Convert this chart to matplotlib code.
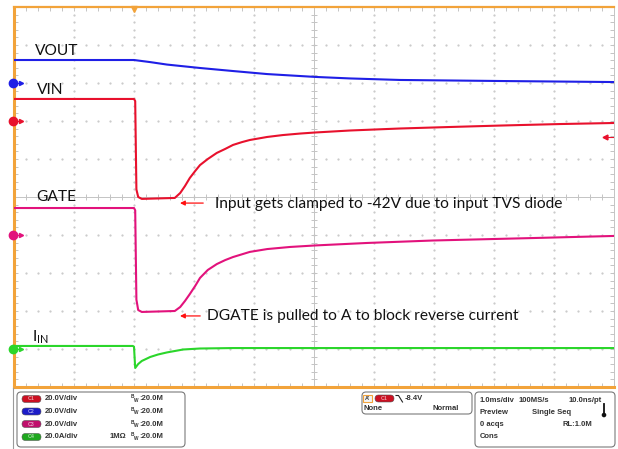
import numpy as np
import matplotlib
matplotlib.use('Agg')
import matplotlib.pyplot as plt
from matplotlib.patches import FancyBboxPatch, Rectangle, Circle

# scope settings: 1.0 ms/div, trigger 2 div from left, 20 V/div (20 A/div on C4)
T_MIN, T_MAX = -2.0, 8.0
V_PER_DIV = 20.0
# ground reference of each channel, in divisions from screen centre
POS_C1 = 2.0   # VIN
POS_C2 = 3.0   # VOUT
POS_C3 = -1.0  # GATE
POS_C4 = -4.0  # IIN
TRIG_LEVEL = -8.4

# C2 - VOUT (V)
vout_t = [-2.0, 0.0, 0.27, 0.55, 1.1, 1.65, 2.22, 3.02, 3.6, 4.43, 6.1, 8.0]
vout_v = [12.1, 12.1, 11.0, 9.7, 7.9, 6.3, 4.7, 3.2, 2.4, 1.6, 1.05, 0.5]

# C1 - VIN (V)
vin_t = [-2.0, 0.0, 0.02, 0.04, 0.07, 0.13, 0.68, 0.77, 0.85, 0.93, 1.02, 1.1, 1.23,
         1.38, 1.52, 1.65, 1.8, 1.93, 2.22, 2.48, 2.77, 3.02, 3.6, 4.43, 5.27, 6.1, 7.1, 8.0]
vin_v = [11.6, 11.6, 10.5, -36.0, -40.0, -41.0, -40.5, -37.9, -34.2, -30.0, -26.3, -23.2, -20.0,
         -16.8, -14.7, -12.6, -11.1, -10.0, -8.4, -7.4, -6.6, -6.05, -5.0, -3.95, -3.15, -2.4, -1.6, -1.05]

# C3 - GATE (V)
gate_t = [-2.0, 0.0, 0.02, 0.04, 0.07, 0.13, 0.68, 0.77, 0.85, 0.93, 1.02, 1.1, 1.23,
          1.38, 1.52, 1.65, 1.93, 2.22, 2.6, 3.02, 3.88, 4.98, 6.65, 8.0]
gate_v = [14.2, 14.2, 13.0, -34.0, -39.5, -40.5, -40.0, -37.9, -34.7, -31.1, -26.8, -22.6, -18.4,
          -15.3, -13.2, -11.6, -8.9, -7.4, -6.3, -5.5, -4.2, -2.9, -1.6, -0.5]

# C4 - IIN (A)
iin_t = [-2.0, -0.02, 0.0, 0.02, 0.07, 0.13, 0.27, 0.4, 0.55, 0.82, 1.1, 1.65, 8.0]
iin_a = [1.6, 1.6, 1.2, -10.0, -7.9, -6.3, -4.2, -2.9, -1.8, -0.26, 0.26, 0.5, 0.5]

C_RED = '#e8112d'
C_BLUE = '#1f1fe6'
C_MAG = '#e2127c'
C_GRN = '#2bd62b'
ORANGE = '#f2a33a'
GRID = '#c4c4c4'

W, H = 618, 449
fig = plt.figure(figsize=(W / 100, H / 100), dpi=100)
ax = fig.add_axes([14 / W, 62 / H, 600 / W, 380 / H])
ax.set_xlim(T_MIN, T_MAX)
ax.set_ylim(-5, 5)
ax.set_xticks([])
ax.set_yticks([])


def to_div(vals, pos):
    return pos + np.asarray(vals) / V_PER_DIV


# dotted graticule
minor_y = np.arange(-5, 5.001, 0.2)
minor_x = np.arange(-2, 8.001, 0.2)
for gx in range(-1, 8):
    if gx == 3:
        continue
    ax.plot(np.full_like(minor_y, gx), minor_y, ls='none', marker='.', ms=1.1, color=GRID)
for gy in range(-4, 5):
    if gy == 0:
        continue
    ax.plot(minor_x, np.full_like(minor_x, gy), ls='none', marker='.', ms=1.1, color=GRID)

# centre cross with minor ticks
ax.axvline(3, color=GRID, lw=0.7)
ax.axhline(0, color=GRID, lw=0.7)
ax.plot(np.full_like(minor_y, 3), minor_y, ls='none', marker='_', ms=4, mew=0.7, color=GRID)
ax.plot(minor_x, np.zeros_like(minor_x), ls='none', marker='|', ms=4, mew=0.7, color=GRID)

# border ticks (only the inner half stays visible)
ax.plot(minor_x, np.full_like(minor_x, 5), ls='none', marker='|', ms=6, mew=0.7, color=GRID)
ax.plot(minor_x, np.full_like(minor_x, -5), ls='none', marker='|', ms=6, mew=0.7, color=GRID)
ax.plot(np.full_like(minor_y, -2), minor_y, ls='none', marker='_', ms=6, mew=0.7, color=GRID)
ax.plot(np.full_like(minor_y, 8), minor_y, ls='none', marker='_', ms=6, mew=0.7, color=GRID)

for side in ['top', 'bottom', 'left']:
    ax.spines[side].set_color(ORANGE)
ax.spines['top'].set_linewidth(1.6)
ax.spines['bottom'].set_linewidth(2.2)
ax.spines['left'].set_linewidth(2.2)
ax.spines['right'].set_color(GRID)
ax.spines['right'].set_linewidth(0.7)

# traces
ax.plot(vout_t, to_div(vout_v, POS_C2), color=C_BLUE, lw=1.5, zorder=5)
ax.plot(vin_t, to_div(vin_v, POS_C1), color=C_RED, lw=1.5, zorder=5)
ax.plot(gate_t, to_div(gate_v, POS_C3), color=C_MAG, lw=1.5, zorder=5)
ax.plot(iin_t, to_div(iin_a, POS_C4), color=C_GRN, lw=1.5, zorder=5)

# ground markers on the left edge
for pos, col in [(POS_C2, C_BLUE), (POS_C1, C_RED), (POS_C3, C_MAG), (POS_C4, C_GRN)]:
    ax.plot([-2.02], [pos], marker='o', ms=6, color=col, clip_on=False, zorder=6)
    ax.plot([-2.0, -1.9], [pos, pos], color=col, lw=0.8, clip_on=False, zorder=6)
    ax.plot([-1.89], [pos], marker='>', ms=3, color=col, clip_on=False, zorder=6)

# trigger position and level markers
ax.plot([0], [4.95], marker='v', ms=5, color=ORANGE, clip_on=False, zorder=6)
trig_y = POS_C1 + TRIG_LEVEL / V_PER_DIV
ax.plot([7.85], [trig_y], marker='<', ms=3.5, color=C_RED, zorder=6)
ax.plot([7.88, 8.0], [trig_y, trig_y], color=C_RED, lw=0.8, zorder=6)

# labels
lab_font = dict(family='Lato', fontsize=11.2, color='#111111')
ax.text(-1.65, 3.84, 'VOUT', va='center', **lab_font)
ax.text(-1.62, 2.82, 'VIN', va='center', **lab_font)
ax.text(-1.63, -0.01, 'GATE', va='center', **lab_font)
ax.text(-1.70, -3.70, r'I$_\mathregular{IN}$', va='center', **lab_font)

ax.annotate('', xy=(0.72, -0.16), xytext=(1.2, -0.16),
            arrowprops=dict(arrowstyle='-|>', color='#ff1010', lw=0.9, mutation_scale=7))
ax.text(1.35, -0.18, 'Input gets clamped to -42V due to input TVS diode', va='center', **lab_font)
ax.annotate('', xy=(0.72, -3.13), xytext=(1.15, -3.13),
            arrowprops=dict(arrowstyle='-|>', color='#ff1010', lw=0.9, mutation_scale=7))
ax.text(1.22, -3.14, 'DGATE is pulled to A to block reverse current', va='center', **lab_font)

# status panel below the graticule (pixel coordinates)
pan = fig.add_axes([0, 0, 1, 1])
pan.set_xlim(0, W)
pan.set_ylim(H, 0)
pan.axis('off')
pan.patch.set_visible(False)

txt = dict(family='Liberation Sans', fontsize=5.5, fontweight='bold', color='#333333', va='center')
tiny = dict(family='Liberation Sans', fontsize=3.4, fontweight='bold', color='#333333', va='center')
pan.plot([13, 13], [388, 449], color='#9a9a9a', lw=0.8)


def box(x0, y0, x1, y1):
    pan.add_patch(FancyBboxPatch((x0, y0), x1 - x0, y1 - y0,
                                 boxstyle='round,pad=0,rounding_size=4',
                                 fc='white', ec='#7a7a7a', lw=0.8))


def pill(x, y, col, name):
    pan.add_patch(FancyBboxPatch((x, y - 3.5), 19, 7, boxstyle='round,pad=0,rounding_size=3.5',
                                 fc=col, ec='#555555', lw=0.4))
    pan.text(x + 9.5, y, name, ha='center', family='Liberation Sans', fontsize=3.8,
             fontweight='bold', color='#ffffff', alpha=0.6, va='center')


box(17, 392, 185, 447)
rows = [399, 411.5, 424, 437]
chan_rows = [('C1', '#cc1022', '20.0V/div'), ('C2', '#1c1cc8', '20.0V/div'),
             ('C3', '#c0106c', '20.0V/div'), ('C4', '#1fa81f', '20.0A/div')]
for yy, (name, col, scale) in zip(rows, chan_rows):
    pill(22, yy, col, name)
    pan.text(45, yy, scale, **txt)
    # bandwidth limit glyph: small B raised, W lowered
    pan.text(130.3, yy - 2.0, 'B', **tiny)
    pan.text(134.3, yy + 1.3, 'W', **tiny)
    pan.text(139.6, yy, ':20.0M', **txt)
pan.text(110, rows[3], '1M\u03a9', **txt)

box(362, 392, 472, 414)
pan.add_patch(Rectangle((363, 394.5), 9, 7.5, fc='#f4f4f4', ec=ORANGE, lw=0.8))
pan.text(367.5, 398.3, "A'", ha='center', family='Liberation Sans', fontsize=4,
         fontweight='bold', color='#333333', va='center')
pill(375, 398.5, '#cc1022', 'C1')
pan.plot([396, 398.5, 402.5], [395.5, 395.5, 402], color='#222222', lw=0.8)
pan.text(405, 398.5, '-8.4V', **txt)
pan.text(364, 409, 'None', **txt)
pan.text(459, 409, 'Normal', ha='right', **txt)

box(475, 392, 615, 447)
pan.text(480, 400, '1.0ms/div', **txt)
pan.text(519, 400, '100MS/s', **txt)
pan.text(602, 400, '10.0ns/pt', ha='right', **txt)
pan.text(480, 412, 'Preview', **txt)
pan.text(532, 412, 'Single Seq', **txt)
pan.plot([604, 604], [404, 414], color='#111111', lw=1.3)
pan.add_patch(Circle((604, 415), 1.6, color='#111111'))
pan.text(480, 424.5, '0 acqs', **txt)
pan.text(592, 424.5, 'RL:1.0M', ha='right', **txt)
pan.text(480, 437, 'Cons', **txt)

fig.savefig('out.png', dpi=100)
